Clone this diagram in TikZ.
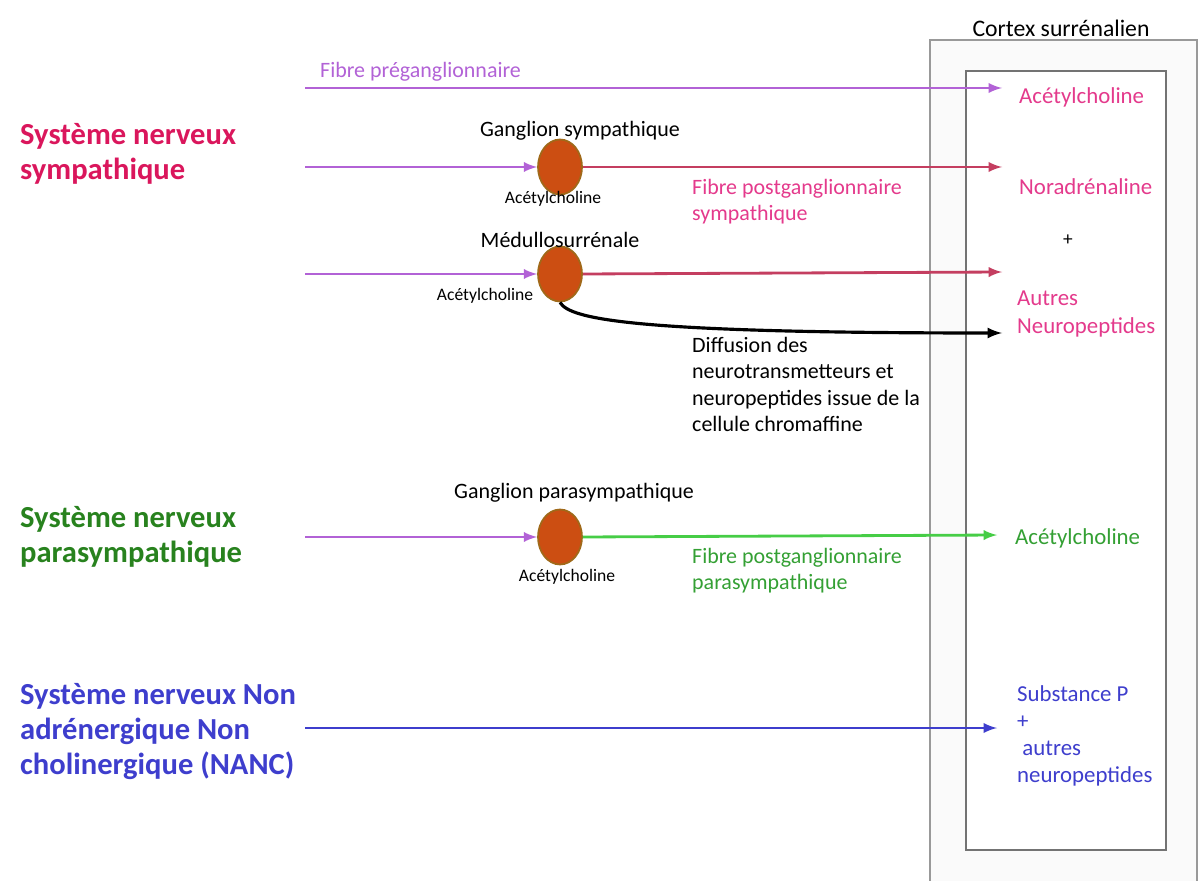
\documentclass[tikz,border=0pt]{standalone}
\usepackage{fontspec}
\setmainfont{Carlito}
\usepackage{tikz}
\usetikzlibrary{arrows,shapes.geometric}
\definecolor{fibpre}{RGB}{178,98,214}
\definecolor{fibsym}{RGB}{196,62,96}
\definecolor{txtsym}{RGB}{228,58,140}
\definecolor{titsym}{RGB}{218,22,92}
\definecolor{fibpara}{RGB}{70,205,70}
\definecolor{txtpara}{RGB}{52,160,52}
\definecolor{titpara}{RGB}{40,130,30}
\definecolor{nanc}{RGB}{62,62,205}
\definecolor{gangfill}{RGB}{204,78,18}
\definecolor{gangline}{RGB}{160,105,25}

\begin{document}
\begin{tikzpicture}[x=0.02cm,y=-0.02cm,
  gang/.style={ellipse,draw=gangline,fill=gangfill,line width=1pt,minimum width=0.88cm,minimum height=1.1cm,inner sep=0pt},
  fib/.style={line width=1.6pt,-latex},
  titre/.style={anchor=north west,align=left,font=\fontsize{17.4}{20}\selectfont\bfseries},
  petit/.style={font=\fontsize{12.5}{15}\selectfont},
  mini/.style={font=\fontsize{10}{11}\selectfont},
  cible/.style={anchor=west,font=\fontsize{13}{15.5}\selectfont}]
\useasboundingbox (0,0) rectangle (1199,881);
% cortex
\draw[gray!80,line width=1.6pt,fill=gray!4] (930,40) rectangle (1197,884);
\draw[gray!90!black,line width=1.4pt,fill=white] (966,71) rectangle (1166,850);
\node[font=\fontsize{13.5}{15}\selectfont] (cortex) at (1061,28) {Cortex surrénalien};
% ganglions
\node[gang] (gs) at (560,167) {};
\node[gang] (gm) at (560,274) {};
\node[gang] (gp) at (560,537) {};
\coordinate (d1) at (305,88);  \coordinate (f1) at (1002,88);
\coordinate (d2) at (305,167); \coordinate (f2) at (1002,167);
\coordinate (d3) at (305,274); \coordinate (f3) at (1002,272);
\coordinate (f4) at (1002,333);
\coordinate (d5) at (305,537); \coordinate (f5) at (997,535);
\coordinate (d6) at (305,728); \coordinate (f6) at (997,728);
% fibres
\draw[fib,fibpre] (d1) -- (f1);
\draw[fib,fibpre] (d2) -- (gs.west);
\draw[fib,fibsym] (gs.east) -- (f2);
\draw[fib,fibpre] (d3) -- (gm.west);
\draw[fib,fibsym] (gm.east) -- (f3);
\draw[line width=1.8pt,-latex] (gm.south) .. controls (570,320) and (640,333) .. (f4);
\draw[fib,fibpre] (d5) -- (gp.west);
\draw[fib,fibpara] (gp.east) -- (f5);
\draw[fib,nanc] (d6) -- (f6);
% legendes
\node[titre,titsym] (tsym) at (14,117) {Système nerveux\\sympathique};
\node[titre,titpara] (tpara) at (14,500) {Système nerveux\\parasympathique};
\node[titre,nanc] (tnanc) at (14,677) {Système nerveux Non\\adrénergique Non\\cholinergique (NANC)};
\node[petit,fibpre,anchor=west] (lpre) at (314,72) {Fibre préganglionnaire};
\node[petit] (lgs) at (580,131) {Ganglion sympathique};
\node[mini] (as) at (553,199) {Acétylcholine};
\node[petit,txtsym,anchor=north west,align=left] (lsym) at (686,173) {Fibre postganglionnaire\\sympathique};
\node[petit] (lgm) at (560,240) {Médullosurrénale};
\node[mini] (am) at (485,296) {Acétylcholine};
\node[petit,anchor=north west,align=left] (ldif) at (686,331) {Diffusion des\\neurotransmetteurs et\\neuropeptides issue de la\\cellule chromaffine};
\node[petit] (lgp) at (574,493) {Ganglion parasympathique};
\node[mini] (ap) at (567,577) {Acétylcholine};
\node[petit,txtpara,anchor=north west,align=left] (lpara) at (686,542) {Fibre postganglionnaire\\parasympathique};
% cibles
\node[cible,txtsym] (c1) at (1013,97) {Acétylcholine};
\node[cible,txtsym] (c2) at (1013,187) {Noradrénaline};
\node[font=\fontsize{11}{15}\selectfont] (plus) at (1068,240) {+};
\node[cible,txtsym,anchor=north west,align=left] (c3) at (1011,285) {Autres\\Neuropeptides};
\node[cible,txtpara] (c4) at (1009,538) {Acétylcholine};
\node[cible,nanc,anchor=north west,align=left] (c5) at (1011,679) {Substance P\\+\\\hspace{3pt}autres\\neuropeptides};
\end{tikzpicture}
\end{document}
